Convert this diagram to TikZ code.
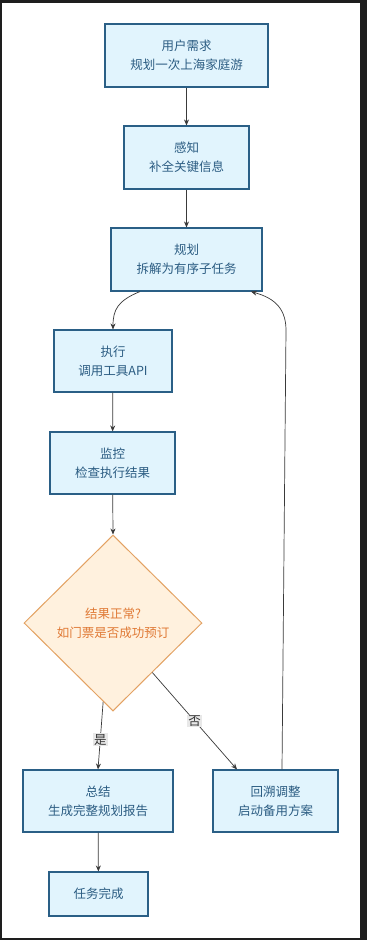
\documentclass[tikz,border=0pt]{standalone}
\usepackage{fontspec}
\setmainfont{Noto Sans CJK SC}
\usetikzlibrary{shapes.geometric,arrows.meta,calc}
\definecolor{boxfill}{HTML}{E1F4FD}
\definecolor{boxline}{HTML}{2A5F86}
\definecolor{boxtext}{HTML}{2B5C82}
\definecolor{diafill}{HTML}{FFF1DE}
\definecolor{dialine}{HTML}{E3A263}
\definecolor{diatext}{HTML}{E07A36}
\definecolor{edgecol}{HTML}{3A3A3A}
\definecolor{framecol}{HTML}{1E1E1E}
\definecolor{lblbg}{HTML}{E8E8E8}
\tikzset{
  stepbox/.style={draw=boxline, line width=1.1pt, fill=boxfill, text=boxtext,
    align=center, inner sep=0pt, font=\fontsize{12.5}{19}\selectfont},
  decbox/.style={diamond, draw=dialine, line width=1pt, fill=diafill, text=diatext,
    align=center, inner sep=0pt, minimum width=178pt, minimum height=176pt,
    font=\fontsize{12.5}{19}\selectfont},
  conn/.style={draw=edgecol, line width=0.7pt, -{Stealth[length=6pt,width=5pt]}},
  elabel/.style={fill=lblbg, inner sep=1pt, text=black!80, font=\fontsize{12.5}{14}\selectfont}
}
\begin{document}
\begin{tikzpicture}[x=1pt,y=-1pt]
\fill[framecol] (0,0) rectangle (367,940);
\fill[white] (1.5,2.5) rectangle (360,938);
\useasboundingbox (0,0) rectangle (367,940);

\node[stepbox, minimum width=163pt, minimum height=63pt] (req) at (186.5,55.5) {用户需求\\规划一次上海家庭游};
\node[stepbox, minimum width=125pt, minimum height=63pt] (per) at (186.5,157.5) {感知\\补全关键信息};
\node[stepbox, minimum width=151pt, minimum height=63pt] (plan) at (186.5,259.5) {规划\\拆解为有序子任务};
\node[stepbox, minimum width=118pt, minimum height=62pt] (exe) at (113,361) {执行\\调用工具API};
\node[stepbox, minimum width=125pt, minimum height=62pt] (mon) at (112.5,463) {监控\\检查执行结果};
\node[decbox] (dec) at (113,623) {结果正常?\\如门票是否成功预订};
\node[stepbox, minimum width=150pt, minimum height=62pt] (sum) at (98,801) {总结\\生成完整规划报告};
\node[stepbox, minimum width=125pt, minimum height=62pt] (back) at (275.5,801) {回溯调整\\启动备用方案};
\node[stepbox, minimum width=99pt, minimum height=44pt] (done) at (98.5,894) {任务完成};

\coordinate (p3out) at ([xshift=-46.5pt]plan.south);
\coordinate (p3in) at ([xshift=64.5pt]plan.south);
\coordinate (b7out) at ([xshift=6.5pt]back.north);
\coordinate (dyes) at ($(dec.south)!0.11!(dec.west)$);
\coordinate (dno) at ($(dec.south)!0.44!(dec.east)$);

\draw[conn] (req) -- (per);
\draw[conn] (per) -- (plan);
\draw[conn] (p3out) .. controls ++(-22,9) and ++(0,-20) .. (exe.north);
\draw[conn] (exe) -- (mon);
\draw[conn] (mon) -- (dec.north);
\draw[conn] (dyes) -- node[elabel, pos=0.56] {是} ([xshift=0pt]sum.north);
\draw[conn] (dno) -- node[elabel, pos=0.5] {否} ([xshift=-38.5pt]back.north);
\draw[conn] (b7out) -- (286,330) .. controls (286,305) and (270,297) .. (p3in);
\draw[conn] (sum) -- (done);
\end{tikzpicture}
\end{document}
